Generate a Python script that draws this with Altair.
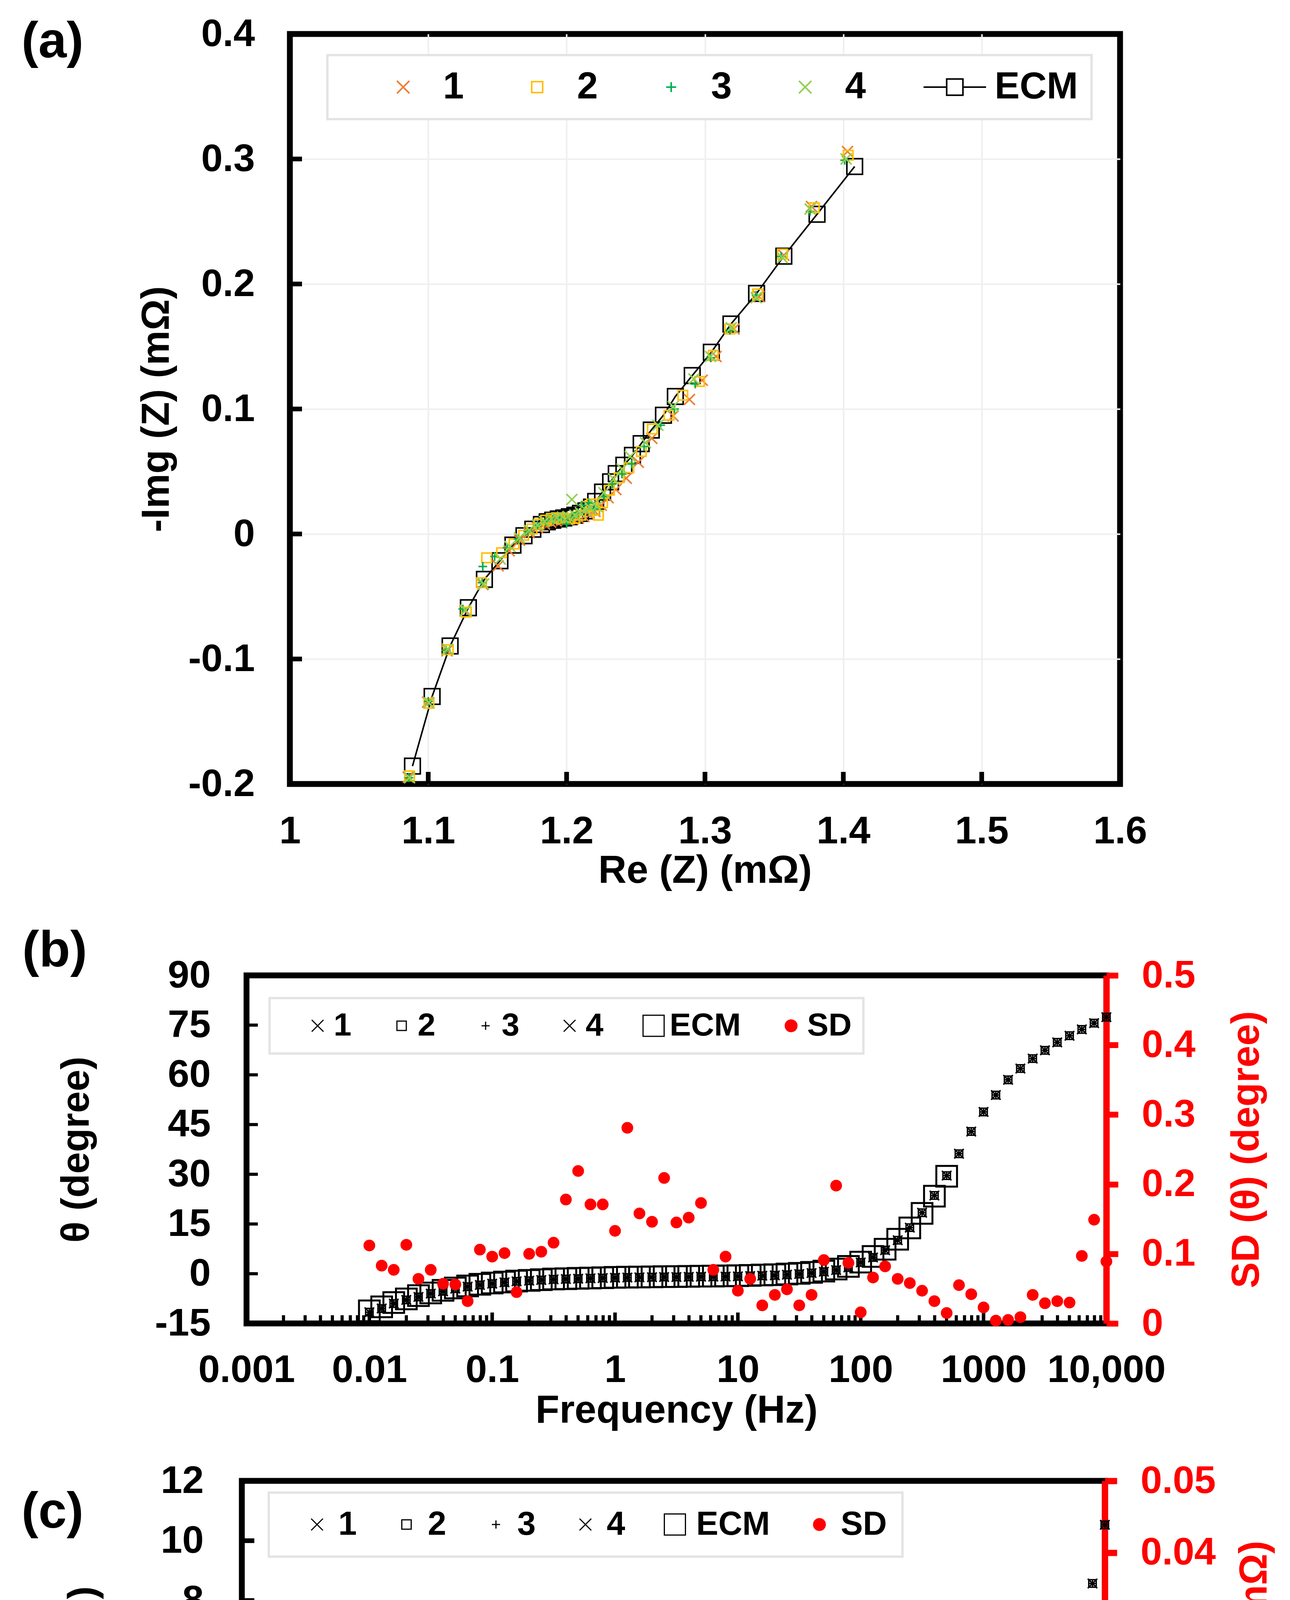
import altair as alt
import pandas as pd

FONT = "Liberation Sans"
RED = "#FF0000"
NUM_EXPR = "replace(format(datum.value, '~g'), '\u2212', '-')"
FREQ_EXPR = "datum.value >= 10000 ? '10,000' : format(datum.value, '~g')"

# ---------------- Panel (a): Nyquist ----------------
ECM_RE = [1.0886, 1.1028, 1.1158, 1.1290, 1.1406, 1.1518, 1.1612, 1.1692, 1.1756, 1.1818,
          1.1860, 1.1900, 1.1940, 1.1980, 1.2020, 1.2060, 1.2100, 1.2140, 1.2180, 1.2210,
          1.2260, 1.2318, 1.2359, 1.2414, 1.2476, 1.2539, 1.2612, 1.2700, 1.2786, 1.2908,
          1.3046, 1.3188, 1.3373, 1.3570, 1.3810, 1.4082]
ECM_IM = [-0.1857, -0.1300, -0.0896, -0.0590, -0.0363, -0.0214, -0.0089, -0.0014, 0.0038, 0.0076,
          0.0098, 0.0110, 0.0120, 0.0128, 0.0138, 0.0150, 0.0165, 0.0185, 0.0215, 0.0260,
          0.0335, 0.0417, 0.0483, 0.0550, 0.0629, 0.0723, 0.0831, 0.0950, 0.1100, 0.1267,
          0.1454, 0.1680, 0.1924, 0.2223, 0.2558, 0.2940]

S1_RE = [1.0855, 1.0995, 1.1135, 1.1265, 1.1395, 1.1505, 1.1585, 1.1660, 1.1730, 1.1790,
         1.1840, 1.1885, 1.1925, 1.1965, 1.2005, 1.2045, 1.2085, 1.2125, 1.2165, 1.2205,
         1.2250, 1.2300, 1.2356, 1.2431, 1.2518, 1.2616, 1.2770, 1.2888, 1.2980, 1.3080,
         1.3210, 1.3390, 1.3570, 1.3770, 1.4030]
S1_IM = [-0.1945, -0.1345, -0.0935, -0.0615, -0.0405, -0.0255, -0.0135, -0.0050, 0.0010, 0.0050,
         0.0080, 0.0095, 0.0105, 0.0110, 0.0115, 0.0120, 0.0130, 0.0140, 0.0155, 0.0180,
         0.0230, 0.0290, 0.0355, 0.0446, 0.0574, 0.0765, 0.0944, 0.1076, 0.1230, 0.1420,
         0.1640, 0.1900, 0.2230, 0.2620, 0.3060]

S2_RE = [1.0865, 1.1005, 1.1145, 1.1275, 1.1385, 1.1422, 1.1530, 1.1620, 1.1690, 1.1750,
         1.1800, 1.1850, 1.1890, 1.1930, 1.1975, 1.2020, 1.2060, 1.2100, 1.2140, 1.2180,
         1.2200, 1.2230, 1.2260, 1.2310, 1.2380, 1.2450, 1.2540, 1.2620, 1.2740, 1.2840,
         1.2960, 1.3060, 1.3180, 1.3380, 1.3560, 1.3790, 1.4035]
S2_IM = [-0.1935, -0.1355, -0.0925, -0.0625, -0.0390, -0.0191, -0.0150, -0.0080, -0.0010, 0.0040,
         0.0080, 0.0110, 0.0125, 0.0130, 0.0125, 0.0120, 0.0125, 0.0150, 0.0220, 0.0240,
         0.0190, 0.0150, 0.0250, 0.0350, 0.0450, 0.0530, 0.0660, 0.0840, 0.0950, 0.1110,
         0.1220, 0.1430, 0.1640, 0.1920, 0.2240, 0.2610, 0.3030]

S3_RE = [1.0860, 1.1000, 1.1130, 1.1250, 1.1390, 1.1394, 1.1480, 1.1570, 1.1650, 1.1720,
         1.1790, 1.1850, 1.1900, 1.1950, 1.2000, 1.2000, 1.2040, 1.2080, 1.2110, 1.2160,
         1.2200, 1.2270, 1.2330, 1.2400, 1.2470, 1.2560, 1.2680, 1.2780, 1.2930, 1.3040,
         1.3180, 1.3370, 1.3550, 1.3760, 1.4010]
S3_IM = [-0.1950, -0.1340, -0.0930, -0.0600, -0.0390, -0.0260, -0.0180, -0.0110, -0.0040, 0.0020,
         0.0070, 0.0100, 0.0115, 0.0125, 0.0110, 0.0080, 0.0130, 0.0170, 0.0230, 0.0250,
         0.0200, 0.0300, 0.0400, 0.0480, 0.0560, 0.0700, 0.0870, 0.1000, 0.1200, 0.1410,
         0.1630, 0.1910, 0.2220, 0.2580, 0.2990]

S4_RE = [1.0865, 1.1005, 1.1140, 1.1270, 1.1400, 1.1520, 1.1590, 1.1660, 1.1730, 1.1790,
         1.1840, 1.1890, 1.1930, 1.1970, 1.2010, 1.2038, 1.2060, 1.2100, 1.2140, 1.2170,
         1.2200, 1.2220, 1.2270, 1.2340, 1.2400, 1.2460, 1.2570, 1.2660, 1.2770, 1.2920,
         1.3040, 1.3190, 1.3370, 1.3560, 1.3760, 1.4020]
S4_IM = [-0.1950, -0.1350, -0.0920, -0.0610, -0.0400, -0.0200, -0.0100, -0.0030, 0.0030, 0.0070,
         0.0100, 0.0120, 0.0130, 0.0135, 0.0140, 0.0276, 0.0150, 0.0170, 0.0190, 0.0210,
         0.0240, 0.0220, 0.0330, 0.0440, 0.0520, 0.0620, 0.0730, 0.0870, 0.1020, 0.1240,
         0.1420, 0.1650, 0.1890, 0.2210, 0.2600, 0.3000]

A_XT = [1.0, 1.1, 1.2, 1.3, 1.4, 1.5, 1.6]
A_YT = [-0.2, -0.1, 0.0, 0.1, 0.2, 0.3, 0.4]
A_SERIES = ["1", "2", "3", "4", "ECM"]
A_COLORS = ["#ED7D31", "#FFC000", "#00B050", "#92D050", "#000000"]

# ---------------- Panels (b) and (c): Bode ----------------
FREQ = [0.01, 0.0126, 0.0158, 0.02, 0.0251, 0.0316, 0.0398, 0.0501, 0.0631, 0.0794,
        0.1, 0.126, 0.158, 0.2, 0.251, 0.316, 0.398, 0.501, 0.631, 0.794,
        1, 1.26, 1.58, 2, 2.51, 3.16, 3.98, 5.01, 6.31, 7.94,
        10, 12.6, 15.8, 20, 25.1, 31.6, 39.8, 50.1, 63.1, 79.4,
        100, 126, 158, 200, 251, 316, 398, 501, 631, 794,
        1000, 1259, 1585, 1995, 2512, 3162, 3981, 5012, 6310, 7943,
        10000]

# measured phase; runs 1-4 coincide at the drawing's resolution
THETA_MEAS = [-11.6, -10.5, -9.0, -7.9, -7.0, -6.0, -5.3, -4.5, -3.9, -3.4,
              -3.0, -2.6, -2.3, -2.1, -1.9, -1.7, -1.6, -1.5, -1.4, -1.3,
              -1.2, -1.15, -1.1, -1.05, -1.0, -1.0, -0.95, -0.9, -0.9, -0.85,
              -0.8, -0.7, -0.6, -0.5, -0.3, -0.1, 0.2, 0.6, 1.1, 1.9,
              3.4, 4.9, 7.1, 10.1, 13.9, 18.4, 23.6, 29.6, 36.2, 42.9,
              48.8, 53.9, 58.5, 61.9, 64.9, 67.4, 69.8, 71.8, 73.7, 75.6,
              77.4]
THETA_ECM = [-11.2, -10.0, -8.7, -7.6, -6.6, -5.8, -5.0, -4.3, -3.7, -3.2,
             -2.8, -2.5, -2.2, -2.0, -1.8, -1.6, -1.5, -1.4, -1.3, -1.2,
             -1.1, -1.05, -1.0, -0.95, -0.9, -0.85, -0.8, -0.75, -0.7, -0.65,
             -0.6, -0.5, -0.4, -0.3, -0.1, 0.1, 0.4, 0.8, 1.4, 2.2,
             3.5, 5.2, 7.4, 10.4, 13.8, 18.2, 23.4, 29.4]
SD_THETA = [0.112, 0.083, 0.077, 0.113, 0.064, 0.077, 0.057, 0.056, 0.032, 0.106,
            0.096, 0.101, 0.045, 0.100, 0.103, 0.116, 0.178, 0.219, 0.171, 0.171,
            0.133, 0.281, 0.158, 0.146, 0.209, 0.145, 0.152, 0.173, 0.077, 0.096,
            0.047, 0.064, 0.026, 0.041, 0.049, 0.026, 0.041, 0.091, 0.198, 0.087,
            0.016, 0.066, 0.082, 0.064, 0.058, 0.047, 0.032, 0.015, 0.055, 0.042,
            0.023, 0.004, 0.005, 0.009, 0.041, 0.029, 0.032, 0.030, 0.097, 0.149,
            0.089]

ZMAG_MEAS = [1.42, 1.40, 1.39, 1.38, 1.37, 1.36, 1.35, 1.34, 1.33, 1.32,
             1.31, 1.30, 1.29, 1.29, 1.28, 1.27, 1.27, 1.26, 1.26, 1.25,
             1.25, 1.24, 1.24, 1.23, 1.23, 1.23, 1.22, 1.22, 1.22, 1.21,
             1.21, 1.21, 1.20, 1.20, 1.20, 1.19, 1.19, 1.18, 1.18, 1.17,
             1.16, 1.15, 1.15, 1.14, 1.14, 1.15, 1.16, 1.21, 1.30, 1.46,
             1.67, 1.96, 2.33, 2.76, 3.32, 4.01, 4.85, 5.87, 7.07, 8.57,
             10.53]
ZMAG_ECM = [1.45, 1.43, 1.42, 1.41, 1.40, 1.39, 1.38, 1.37, 1.36, 1.35,
            1.34, 1.33, 1.32, 1.31, 1.30, 1.30, 1.29, 1.28, 1.28, 1.27,
            1.27, 1.26, 1.26, 1.25, 1.25, 1.24, 1.24, 1.24, 1.23, 1.23,
            1.23, 1.22, 1.22, 1.21, 1.21, 1.20, 1.20, 1.19, 1.19, 1.18,
            1.18, 1.17, 1.17, 1.16, 1.16, 1.17, 1.18, 1.20]
SD_ZMAG = [0.0022, 0.0029, 0.0011, 0.0017, 0.0013, 0.0018, 0.0020, 0.0034, 0.0034, 0.0030,
           0.0032, 0.0027, 0.0063, 0.0025, 0.0071, 0.0066, 0.0089, 0.0057, 0.0097, 0.0084,
           0.0070, 0.0065, 0.0044, 0.0038, 0.0062, 0.0017, 0.0022, 0.0017, 0.0054, 0.0034,
           0.0036, 0.0029, 0.0025, 0.0043, 0.0020, 0.0020, 0.0025, 0.0032, 0.0074, 0.0012,
           0.0020, 0.0011, 0.0009, 0.0008, 0.0006, 0.0009, 0.0008, 0.0008, 0.0010, 0.0008,
           0.0007, 0.0006, 0.0011, 0.0015, 0.0028, 0.0012, 0.0036, 0.0042, 0.0066, 0.0127,
           0.0306]

LOG_T = [0.001, 0.01, 0.1, 1, 10, 100, 1000, 10000]
LOG_MINOR = [m * 10.0 ** e for e in range(-3, 4) for m in range(2, 10)]
B_YT = [-15, 0, 15, 30, 45, 60, 75, 90]
B_YRT = [0, 0.1, 0.2, 0.3, 0.4, 0.5]
C_YT = [0, 2, 4, 6, 8, 10, 12]
C_YRT = [0, 0.01, 0.02, 0.03, 0.04, 0.05]
BC_SERIES = ["1", "2", "3", "4", "ECM", "SD"]

# marker shapes (unit-box SVG paths)
X_PATH = "M-1,-1L1,1M-1,1L1,-1"
A_SHAPES = [X_PATH, "M-0.875,-0.875H0.875V0.875H-0.875Z", "M-0.8,0H0.8M0,-0.8V0.8", X_PATH,
            "M-5,0H-1.3M1.3,0H5M-1.3,-1.3H1.3V1.3H-1.3Z"]
CIRCLE_PATH = "M-1,0A1,1 0 1,0 1,0A1,1 0 1,0 -1,0Z"
BC_SHAPES = [X_PATH, "M-0.8,-0.8H0.8V0.8H-0.8Z", "M-0.7,0H0.7M0,-0.7V0.7", X_PATH,
             "M-1.8,-1.8H1.8V1.8H-1.8Z", CIRCLE_PATH]
BC_STROKE = ["black", "black", "black", "black", "black", RED]
BC_FILL = ["transparent", "transparent", "transparent", "transparent", "transparent", RED]

# ---------------- layout (px) ----------------
A_W, A_H = 2125, 1920
B_W, B_H = 2201, 891
C_W, C_H = 2209, 919

df_ecm_a = pd.DataFrame({"re": ECM_RE, "im": ECM_IM, "i": list(range(len(ECM_RE)))})
df_meas_a = pd.concat([
    pd.DataFrame({"re": r, "im": m, "s": s})
    for r, m, s in [(S1_RE, S1_IM, "1"), (S2_RE, S2_IM, "2"), (S3_RE, S3_IM, "3"), (S4_RE, S4_IM, "4")]
], ignore_index=True)

df_theta = pd.concat([pd.DataFrame({"f": FREQ, "v": THETA_MEAS, "s": s}) for s in ["1", "2", "3", "4"]],
                     ignore_index=True)
df_theta_ecm = pd.DataFrame({"f": FREQ[:len(THETA_ECM)], "v": THETA_ECM})
df_sd_theta = pd.DataFrame({"f": FREQ, "v": SD_THETA})
df_z = pd.concat([pd.DataFrame({"f": FREQ, "v": ZMAG_MEAS, "s": s}) for s in ["1", "2", "3", "4"]],
                 ignore_index=True)
df_z_ecm = pd.DataFrame({"f": FREQ[:len(ZMAG_ECM)], "v": ZMAG_ECM})
df_sd_z = pd.DataFrame({"f": FREQ, "v": SD_ZMAG})

FRAME = alt.ViewBackground(stroke="black", strokeWidth=15)


def panel_label(text, dx, dy):
    return alt.Chart(pd.DataFrame({"t": [text]})).mark_text(
        align="left", baseline="alphabetic", font=FONT, fontWeight="bold", fontSize=130, color="black"
    ).encode(text="t:N", x=alt.value(dx), y=alt.value(dy))


def legend(x, y, pad, tpad, loff, cpad, fsize, ssize, sw, entries):
    return alt.Legend(
        orient="none", legendX=x, legendY=y, direction="horizontal", columns=len(entries),
        title=" ", titleOrient="left", titleFontSize=1, titlePadding=tpad,
        padding=pad, strokeColor="#E4E4E4", fillColor="white",
        labelFont=FONT, labelFontWeight="bold", labelFontSize=fsize, labelColor="black",
        labelOffset=loff, columnPadding=cpad, symbolSize=ssize, symbolStrokeWidth=sw,
        labelLimit=2000,
    )


def fixed_extent(e):
    return dict(minExtent=e, maxExtent=e, titlePadding=0)


EDGE_A_X = {"condition": {"test": "datum.value <= 1.0 || datum.value >= 1.6", "value": 0}, "value": 1}
EDGE_A_Y = {"condition": {"test": "datum.value <= -0.2 || datum.value >= 0.4", "value": 0}, "value": 1}

# ---------------- (a) ----------------
xs_a = alt.Scale(domain=[1.0, 1.6], nice=False, zero=False)
ys_a = alt.Scale(domain=[-0.2, 0.4], nice=False, zero=False)
AX_A_X = alt.Axis(values=A_XT, labelExpr=NUM_EXPR, title="Re (Z) (mΩ)", grid=True, gridColor="#EFEFEF",
                  gridWidth=4, gridOpacity=EDGE_A_X, labelPadding=73, labelFlush=False,
                  **fixed_extent(173))
AX_A_Y = alt.Axis(values=A_YT, labelExpr=NUM_EXPR, title="-Img (Z) (mΩ)", grid=True,
                  gridColor="#EFEFEF", gridWidth=4, gridOpacity=EDGE_A_Y, labelPadding=90,
                  titleAngle=270, titleBaseline="bottom", labelFlush=False, **fixed_extent(290))


def XA(f):
    return alt.X(f, type="quantitative", scale=xs_a, axis=AX_A_X)


def YA(f):
    return alt.Y(f, type="quantitative", scale=ys_a, axis=AX_A_Y)


leg_a = legend(96, 54, 34, 112, 54, 139, 96, 1024, 4, A_SERIES)
a_tx = alt.Chart(pd.DataFrame({"v": A_XT[1:-1]})).mark_rule(color="black", strokeWidth=12).encode(
    x=XA("v"), y=alt.value(A_H), y2=alt.value(A_H - 31))
a_ty = alt.Chart(pd.DataFrame({"v": A_YT[1:-1]})).mark_rule(color="black", strokeWidth=12).encode(
    y=YA("v"), x=alt.value(0), x2=alt.value(31))
a_line = alt.Chart(df_ecm_a).mark_line(color="black", strokeWidth=4).encode(
    x=XA("re"), y=YA("im"), order="i:Q")
a_sq = alt.Chart(df_ecm_a).mark_point(shape="square", size=1600, filled=False, color="black",
                                      strokeWidth=4, opacity=1).encode(x=XA("re"), y=YA("im"))
a_meas = alt.Chart(df_meas_a).mark_point(filled=False, size=784, strokeWidth=4, opacity=1).encode(
    x=XA("re"), y=YA("im"),
    color=alt.Color("s:N", scale=alt.Scale(domain=A_SERIES, range=A_COLORS), legend=leg_a),
    shape=alt.Shape("s:N", scale=alt.Scale(domain=A_SERIES, range=A_SHAPES), legend=leg_a),
)
panel_a = alt.layer(a_tx, a_ty, a_line, a_sq, a_meas, panel_label("(a)", -687, 60)).properties(
    width=A_W, height=A_H, view=FRAME)


# ---------------- (b) / (c) builder ----------------
def bode_panel(W, H, df_meas, df_ecm, df_sd, yl_dom, yl_vals, yl_title, yr_dom, yr_vals, yr_title,
               xlab_pad, x_ext, yl_lab_pad, yl_ext, yr_tick, yr_tick_w, yr_ext,
               lt_len, lt_w, bt_len, bt_w, minor, ecm_size, leg, label, label_xy):
    xs = alt.Scale(type="log", domain=[0.001, 10000], nice=False)
    axx = alt.Axis(values=LOG_T, labelExpr=FREQ_EXPR, title="Frequency (Hz)",
                   labelPadding=xlab_pad, labelFlush=False, **fixed_extent(x_ext))
    ysl = alt.Scale(domain=yl_dom, nice=False, zero=False)
    ysr = alt.Scale(domain=yr_dom, nice=False, zero=False)
    axl = alt.Axis(values=yl_vals, labelExpr=NUM_EXPR, title=yl_title,
                   labelPadding=yl_lab_pad, titleAngle=270, titleBaseline="bottom",
                   labelFlush=False, **fixed_extent(yl_ext))
    axr = alt.Axis(orient="right", values=yr_vals, labelExpr=NUM_EXPR, title=yr_title,
                   labelColor=RED, titleColor=RED, domain=True, domainColor=RED, domainWidth=16,
                   ticks=True, tickColor=RED, tickWidth=yr_tick_w, tickSize=yr_tick,
                   labelPadding=60, titleAngle=270, titleBaseline="top",
                   labelFlush=False, **fixed_extent(yr_ext))

    def X(f):
        return alt.X(f, type="quantitative", scale=xs, axis=axx)

    layers = [
        alt.Chart(pd.DataFrame({"v": LOG_T[1:-1]})).mark_rule(color="black", strokeWidth=bt_w).encode(
            x=X("v"), y=alt.value(H), y2=alt.value(H - bt_len)),
        alt.Chart(pd.DataFrame({"v": yl_vals[1:-1]})).mark_rule(color="black", strokeWidth=lt_w).encode(
            y=alt.Y("v:Q", scale=ysl, axis=None), x=alt.value(0), x2=alt.value(lt_len)),
    ]
    if minor:
        layers.append(
            alt.Chart(pd.DataFrame({"v": LOG_MINOR})).mark_rule(color="black", strokeWidth=8).encode(
                x=X("v"), y=alt.value(H), y2=alt.value(H - 21)))
    layers += [
        alt.Chart(df_ecm).mark_point(shape="square", size=ecm_size, filled=False, color="black",
                                     strokeWidth=5, opacity=1).encode(
            x=X("f"), y=alt.Y("v:Q", scale=ysl, axis=None)),
        alt.Chart(df_meas).mark_point(filled=True, size=576, strokeWidth=3.5, opacity=1).encode(
            x=X("f"), y=alt.Y("v:Q", scale=ysl, axis=axl),
            shape=alt.Shape("s:N", scale=alt.Scale(domain=BC_SERIES, range=BC_SHAPES), legend=leg),
            stroke=alt.Stroke("s:N", scale=alt.Scale(domain=BC_SERIES, range=BC_STROKE), legend=leg),
            fill=alt.Fill("s:N", scale=alt.Scale(domain=BC_SERIES, range=BC_FILL), legend=leg),
        ),
        alt.Chart(df_sd).mark_point(shape="circle", size=900, filled=True, color=RED, opacity=1).encode(
            x=X("f"), y=alt.Y("v:Q", scale=ysr, axis=axr)),
        panel_label(label, *label_xy),
    ]
    return alt.layer(*layers).resolve_scale(y="independent").properties(width=W, height=H, view=FRAME)


leg_b = legend(59, 58, 30, 52, 0, 87, 82, 900, 3, BC_SERIES)
panel_b = bode_panel(B_W, B_H, df_theta, df_theta_ecm, df_sd_theta, [-15, 90], B_YT, "θ (degree)",
                     [0, 0.5], B_YRT, "SD (θ) (degree)", 71, 174, 92, 384, 30, 15, 310,
                     29, 8, 28, 9, True, 2809, leg_b, "(b)", (-574, -23))

leg_c = legend(69, 30, 39, 42, 12, 84, 85, 900, 3, BC_SERIES)
panel_c = bode_panel(C_W, C_H, df_z, df_z_ecm, df_sd_z, [0, 12], C_YT, "|Z| (mΩ)",
                     [0, 0.05], C_YRT, "SD (|Z|) (mΩ)", 80, 207, 98, 355, 31, 16, 334,
                     32, 12, 31, 12, False, 3025, leg_c, "(c)", (-564, 120))


def indep(ch):
    return ch.resolve_scale(color="independent", shape="independent", fill="independent",
                            stroke="independent").resolve_legend(
        color="independent", shape="independent", fill="independent", stroke="independent")


def spacer(w):
    # empty, invisible cell used only to shift a panel's left edge
    return alt.Chart(pd.DataFrame({"z": [0]})).mark_point(opacity=0).encode(
        x=alt.X("z:Q", axis=None, scale=alt.Scale(domain=[0, 1])),
        y=alt.Y("z:Q", axis=None, scale=alt.Scale(domain=[0, 1])),
    ).properties(width=w, height=1)


row_a = indep(alt.hconcat(spacer(1), panel_a, spacing=0))
row_b = indep(alt.hconcat(spacer(5), panel_b, spacing=0))
row_c = indep(alt.hconcat(spacer(1), panel_c, spacing=0))
inner = indep(alt.vconcat(row_b, row_c, spacing=65))
chart = indep(alt.vconcat(row_a, inner, spacing=75))

chart = chart.properties(
    padding={"left": 33, "top": 22, "right": 10, "bottom": 10}, background="white"
).configure_view(stroke=None).configure_axis(
    labelFont=FONT, titleFont=FONT, labelFontWeight="bold", titleFontWeight="bold",
    labelColor="black", titleColor="black", labelFontSize=99, titleFontSize=100,
    labelOverlap=False, grid=False, domain=False, ticks=False, tickSize=0, labelLimit=2000,
).configure_legend(strokeWidth=6)

chart.save("out.html", embed_options={"renderer": "svg", "actions": False})
